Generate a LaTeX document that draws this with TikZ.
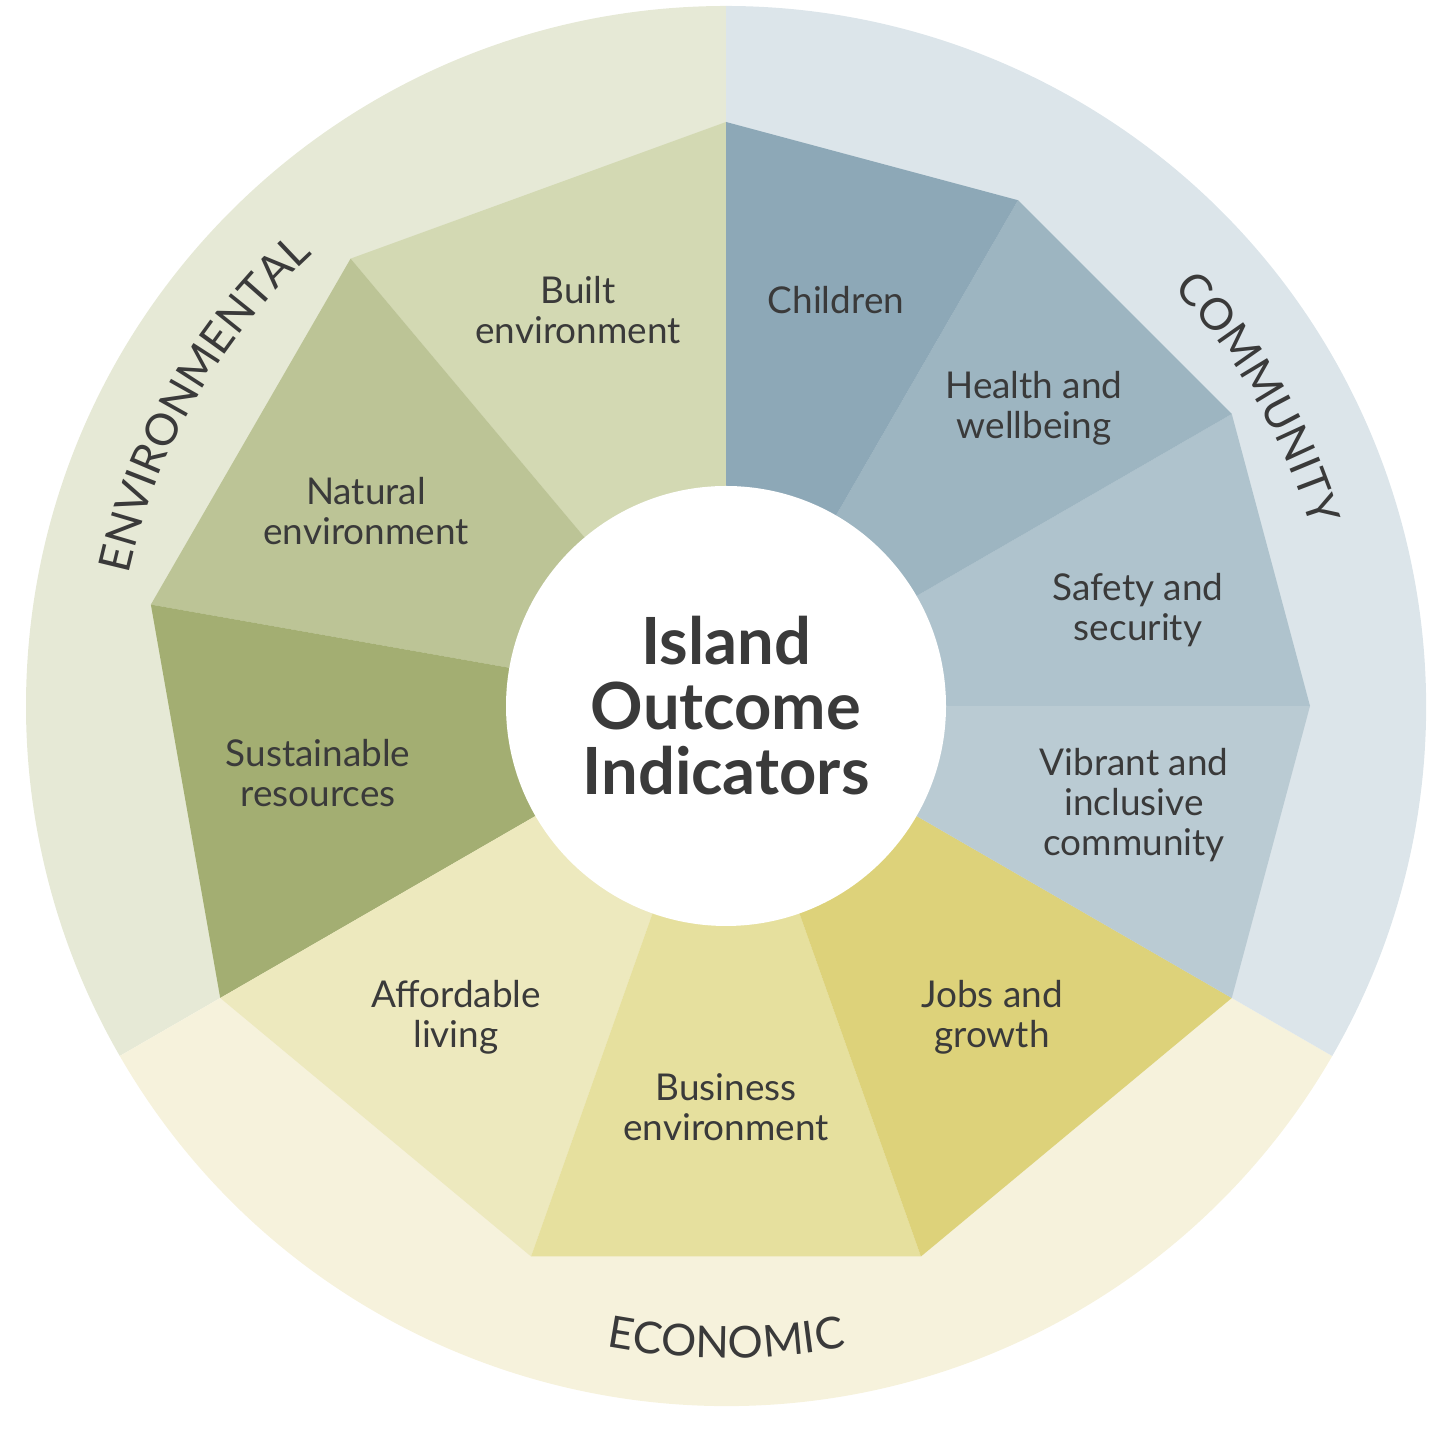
\documentclass[tikz,border=0pt]{standalone}
\usepackage{fontspec}
\setmainfont{Lato}
\usetikzlibrary{positioning, calc, decorations.text}

\begin{document}
\begin{tikzpicture}
            [
                x=0.01cm, y=0.01cm,
                segment label/.style={align=center, text=inkGrey, font=\fontsize{10.5}{11.3}\selectfont},
                title label/.style={align=center, text=inkGrey, font=\fontsize{18.5}{18.5}\bfseries\selectfont},
                ring label/.style={decorate, decoration={text along path, text align=center,
                    text color=inkGrey, text={#1}}}
            ]
            \definecolor{inkGrey}{HTML}{3A3A3A}
            \definecolor{envRing}{HTML}{E6E9D6}
            \definecolor{comRing}{HTML}{DCE5EA}
            \definecolor{ecoRing}{HTML}{F6F2DC}
            \definecolor{builtCol}{HTML}{D3D9B3}
            \definecolor{naturalCol}{HTML}{BCC496}
            \definecolor{sustainCol}{HTML}{A3AE72}
            \definecolor{affordCol}{HTML}{EDE9BE}
            \definecolor{businessCol}{HTML}{E6E09E}
            \definecolor{jobsCol}{HTML}{DDD27A}
            \definecolor{vibrantCol}{HTML}{BACBD3}
            \definecolor{safetyCol}{HTML}{AFC3CD}
            \definecolor{healthCol}{HTML}{9DB5C1}
            \definecolor{childCol}{HTML}{8DA8B7}
            \useasboundingbox (0,0) rectangle (1440,1440);
            \coordinate (c) at (726,734);
            % outer rings
            \fill[envRing] (c) -- ++(90:700) arc[start angle=90, end angle=210, radius=700] -- cycle;
            \fill[ecoRing] (c) -- ++(210:700) arc[start angle=210, end angle=330, radius=700] -- cycle;
            \fill[comRing] (c) -- ++(330:700) arc[start angle=-30, end angle=90, radius=700] -- cycle;
            % segments
            \foreach \a/\b/\col in {90/130/builtCol, 130/170/naturalCol, 170/210/sustainCol,
                210/250.5/affordCol, 250.5/289.5/businessCol, 289.5/330/jobsCol,
                330/360/vibrantCol, 0/30/safetyCol, 30/60/healthCol, 60/90/childCol}
            {
                \fill[\col] (c) -- ($(c)+(\a:584)$) -- ($(c)+(\b:584)$) -- cycle;
            }
            \fill[white] (c) circle[radius=220];
            \node[title label] (title) at (c) {Island\\Outcome\\Indicators};
            \node[segment label] (built) at (578,1130) {Built\\environment};
            \node[segment label] (children) at (836,1140) {Children};
            \node[segment label] (health) at (1034,1032) {Health and\\wellbeing};
            \node[segment label] (safety) at (1138,830) {Safety and\\security};
            \node[segment label] (vibrant) at (1134,635) {Vibrant and\\inclusive\\community};
            \node[segment label] (jobs) at (992,423) {Jobs and\\growth};
            \node[segment label] (business) at (726,333) {Business\\environment};
            \node[segment label] (afford) at (456,423) {Affordable\\living};
            \node[segment label] (sustain) at (318,667) {Sustainable\\resources};
            \node[segment label] (natural) at (366,929) {Natural\\environment};
            % ring labels
            \path[ring label={|\fontsize{12.5}{12.5}\selectfont|ENVIRONMENTAL}]
                ($(c)+(178:612)$) arc[start angle=178, end angle=122, radius=612];
            \path[ring label={|\fontsize{12.5}{12.5}\selectfont|COMMUNITY}]
                ($(c)+(55:612)$) arc[start angle=55, end angle=5, radius=612];
            \path[ring label={|\fontsize{12.5}{12.5}\selectfont|ECONOMIC}]
                ($(c)+(-112:652)$) arc[start angle=-112, end angle=-68, radius=652];
        \end{tikzpicture}
\end{document}
